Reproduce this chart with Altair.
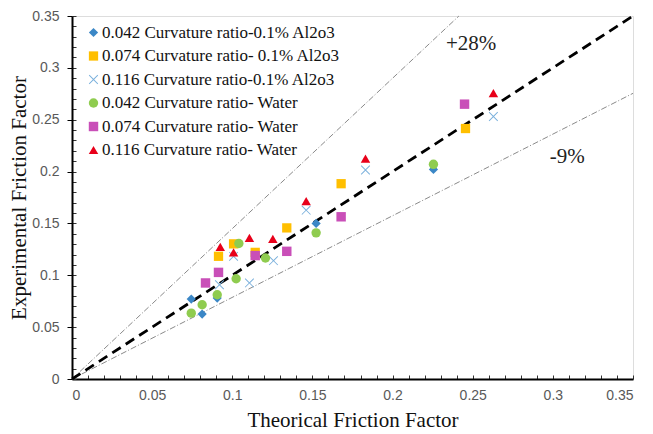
import altair as alt
import pandas as pd

series_names = [
    "0.042 Curvature ratio-0.1% Al2o3",
    "0.074 Curvature ratio- 0.1% Al2o3",
    "0.116 Curvature ratio-0.1% Al2o3",
    "0.042 Curvature ratio-  Water",
    "0.074 Curvature ratio- Water",
    "0.116 Curvature ratio- Water",
]
series_colors = ["#3B87C6", "#FFBF00", "#7AB0DC", "#8FCC4F", "#C94FB8", "#E8001A"]
x_path = "M-1,-0.86L-0.86,-1L0,-0.14L0.86,-1L1,-0.86L0.14,0L1,0.86L0.86,1L0,0.14L-0.86,1L-1,0.86L-0.14,0Z"
series_shapes = ["diamond", "square", x_path, "circle", "square", "triangle-up"]
series_sizes = [85, 90, 110, 85, 90, 110]

# theoretical (x) and experimental (y) friction factors per series
x_d042_al = [0.0744, 0.0812, 0.0906, 0.1523, 0.2255]
y_d042_al = [0.0771, 0.0626, 0.0780, 0.1500, 0.2021]
x_d074_al = [0.0914, 0.1008, 0.1143, 0.1340, 0.1679, 0.2455]
y_d074_al = [0.1183, 0.1303, 0.1221, 0.1457, 0.1883, 0.2415]
x_d116_al = [0.0920, 0.1008, 0.1107, 0.1257, 0.1461, 0.1831, 0.2629]
y_d116_al = [0.0909, 0.1183, 0.0926, 0.1141, 0.1628, 0.2015, 0.2531]
x_d042_w = [0.0744, 0.0812, 0.0906, 0.1024, 0.1041, 0.1207, 0.1523, 0.2255]
y_d042_w = [0.0635, 0.0716, 0.0812, 0.0967, 0.1306, 0.1167, 0.1409, 0.2070]
x_d074_w = [0.0833, 0.0914, 0.1143, 0.1340, 0.1679, 0.2449]
y_d074_w = [0.0926, 0.1028, 0.1190, 0.1231, 0.1564, 0.2650]
x_d116_w = [0.0925, 0.1008, 0.1107, 0.1253, 0.1461, 0.1831, 0.2629]
y_d116_w = [0.1274, 0.1221, 0.1361, 0.1351, 0.1715, 0.2125, 0.2756]

xs = [x_d042_al, x_d074_al, x_d116_al, x_d042_w, x_d074_w, x_d116_w]
ys = [y_d042_al, y_d074_al, y_d116_al, y_d042_w, y_d074_w, y_d116_w]

ref_names = ["equal", "plus", "minus"]
ref_slopes = [1.0, 1.45, 0.787]

ann_text = ["+28%", "-9%"]
ann_x = [0.249, 0.309]
ann_y = [0.323, 0.214]

major_ticks = [0, 0.05, 0.1, 0.15, 0.2, 0.25, 0.3, 0.35]
minor_ticks = [i / 100 for i in range(0, 36)]
AX_MAX = 0.35

rows = []
for name, xv, yv in zip(series_names, xs, ys):
    for a, b in zip(xv, yv):
        rows.append({"series": name, "x": a, "y": b})
pts = pd.DataFrame(rows)

lrows = []
for name, s in zip(ref_names, ref_slopes):
    xe = min(AX_MAX, AX_MAX / s)
    lrows.append({"ref": name, "x": 0.0, "y": 0.0})
    lrows.append({"ref": name, "x": xe, "y": s * xe})
lines = pd.DataFrame(lrows)

ann = pd.DataFrame({"t": ann_text, "x": ann_x, "y": ann_y})

xs_scale = alt.Scale(domain=[0, AX_MAX], nice=False)
ys_scale = alt.Scale(domain=[0, AX_MAX], nice=False)

label_font = "Liberation Sans"
serif = "Times New Roman, Liberation Serif, serif"

x_axis = alt.Axis(values=major_ticks, format=".2~f", title="Theorical Friction Factor",
                  orient="bottom",
                  grid=False, ticks=False, labelPadding=9, labelFont=label_font,
                  labelFontSize=14, labelColor="#595959", titleFont=serif,
                  titleFontSize=21, titleFontWeight="normal", titleColor="#111111",
                  titlePadding=7, domainColor="black", domainWidth=2)
y_axis = alt.Axis(values=major_ticks, format=".2~f", title="Experimental Friction Factor",
                  orient="left",
                  grid=False, tickSize=5, tickColor="black", tickWidth=1,
                  labelPadding=8, labelFont=label_font, labelFontSize=14,
                  labelColor="#595959", titleFont=serif, titleFontSize=21,
                  titleFontWeight="normal", titleColor="#111111", titlePadding=2,
                  domainColor="black", domainWidth=2)

leg = alt.Legend(title=None, orient="none", legendX=13, legendY=8,
                 labelFont=serif, labelFontSize=17, labelColor="#111111",
                 labelLimit=400, symbolSize=45, rowPadding=5.5,
                 labelOffset=0, symbolOpacity=1)

points = alt.Chart(pts).mark_point(filled=True, opacity=1).encode(
    x=alt.X("x:Q", scale=xs_scale, axis=x_axis),
    y=alt.Y("y:Q", scale=ys_scale, axis=y_axis),
    color=alt.Color("series:N", scale=alt.Scale(domain=series_names, range=series_colors),
                    legend=leg),
    shape=alt.Shape("series:N", scale=alt.Scale(domain=series_names, range=series_shapes),
                    legend=leg),
    size=alt.Size("series:N", scale=alt.Scale(domain=series_names, range=series_sizes),
                  legend=None),
)

minor_x = alt.Axis(values=minor_ticks, labels=False, domain=False, grid=False, title=None,
                   tickSize=4, offset=-4, tickColor="#333333", orient="bottom")
minor_y = alt.Axis(values=minor_ticks, labels=False, domain=False, grid=False, title=None,
                   tickSize=4, offset=-4, tickColor="#333333", orient="left")

eq_line = alt.Chart(lines).transform_filter(alt.datum.ref == "equal").mark_line(
    color="black", strokeWidth=2.8, strokeDash=[10, 6]).encode(
    x=alt.X("x:Q", scale=xs_scale, axis=minor_x),
    y=alt.Y("y:Q", scale=ys_scale, axis=minor_y),
)
band_lines = alt.Chart(lines).transform_filter(alt.datum.ref != "equal").mark_line(
    color="#8a8a8a", strokeWidth=1, strokeDash=[6, 2, 1, 2]).encode(
    x=alt.X("x:Q", scale=xs_scale, axis=None),
    y=alt.Y("y:Q", scale=ys_scale, axis=None),
    detail="ref:N",
)

labels = alt.Chart(ann).mark_text(font=serif, fontSize=21, color="#222222").encode(
    x=alt.X("x:Q", scale=xs_scale, axis=None),
    y=alt.Y("y:Q", scale=ys_scale, axis=None),
    text="t:N",
)

chart = alt.layer(band_lines, eq_line, points, labels).resolve_axis(
    x="independent", y="independent"
).properties(
    width=561, height=363,
    padding={"left": 64, "top": 8, "right": 12, "bottom": 54},
    autosize=alt.AutoSizeParams(type="none"),
).configure_view(stroke="black", strokeWidth=2).configure(background="white")

chart.save("out.html", embed_options={"renderer": "svg", "actions": False})
